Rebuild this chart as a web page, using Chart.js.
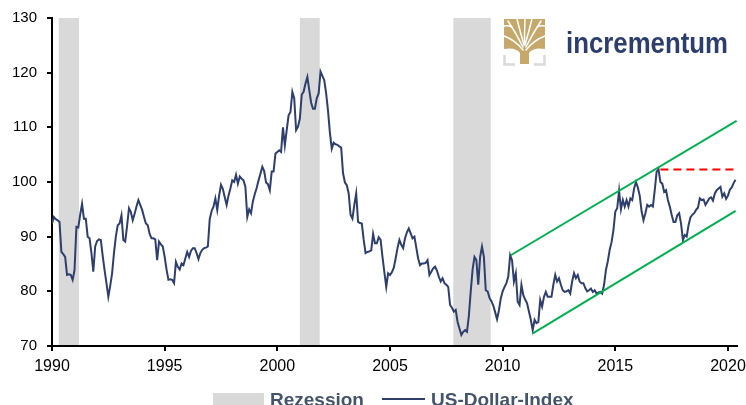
<!DOCTYPE html>
<html>
<head>
<meta charset="utf-8">
<script src="https://cdn.jsdelivr.net/npm/chart.js@4.4.1/dist/chart.umd.min.js"></script>
<style>
  body { margin: 0; background: #fff; }
  #wrap { position: relative; width: 746px; height: 405px; overflow: hidden; font-family: "Liberation Sans", Arial, sans-serif; }
  #chart { position: absolute; left: 0; top: 0; }
  .logo { position: absolute; left: 503px; top: 18px; }
  .leg { position: absolute; font-weight: bold; font-size: 19px; line-height: 19px; color: #44546A; white-space: nowrap; }
  .leg-box { position: absolute; left: 213px; top: 393px; width: 51px; height: 14px; background: #D9D9D9; }
  .leg-line { position: absolute; left: 382px; top: 398px; width: 43px; height: 2px; background: #2E3F6E; }
</style>
</head>
<body>
<div id="wrap">
  <canvas id="chart" width="746" height="405"></canvas>

  <svg class="logo" width="232" height="50" viewBox="0 0 232 50">
    <!-- Baum -->
    <path d="M1 1 H42 V31 Q30 29 26 35 V46 H17 V35 Q13 29 1 31 Z" fill="#C5A86A"/>
    <g stroke="#fff" stroke-width="1.5" fill="none" stroke-linecap="round">
      <path d="M20 32 Q12 22 1 18"/>
      <path d="M20 29 Q13 15 5 3"/>
      <path d="M21 27 Q17 13 14 1"/>
      <path d="M21.5 26 Q21.5 12 22 1"/>
      <path d="M22 27 Q26 13 29 1"/>
      <path d="M23 29 Q30 15 38 3"/>
      <path d="M23 32 Q31 22 42 18"/>
      <path d="M9 9 Q5 7 1 8"/>
      <path d="M34 9 Q38 7 42 8"/>
    </g>
    <g stroke="#D9D9D9" stroke-width="2.5" fill="none">
      <path d="M1.5 37 V46.5 H12"/>
      <path d="M41.5 37 V46.5 H31"/>
    </g>
    <text x="63" y="35" font-family="Liberation Sans, Arial, sans-serif" font-weight="bold" font-size="29"
          fill="#2C3E6B" textLength="162" lengthAdjust="spacingAndGlyphs">incrementum</text>
  </svg>

  <div class="leg-box"></div>
  <div class="leg" style="left:270px; top:390px;">Rezession</div>
  <div class="leg-line"></div>
  <div class="leg" style="left:431px; top:390px;">US-Dollar-Index</div>
</div>

<script>
// US-Dollar-Index, Monatswerte ab Jan 1990
const startYear = 1990;
const usdIndex = [
  92.4, 93.6, 93.2, 93.0, 92.7, 87.2, 86.8, 86.3, 83.0, 83.1, 83.0, 82.1,         // 1990
  83.9, 91.8, 91.7, 94.0, 96.0, 93.3, 93.3, 90.0, 89.7, 87.0, 83.6, 88.2,         // 1991
  89.2, 89.5, 89.4, 86.5, 83.9, 81.5, 79.0, 81.0, 83.3, 87.0, 90.0, 92.1,         // 1992
  92.4, 93.9, 89.4, 89.1, 92.0, 95.2, 94.5, 93.0, 94.2, 95.5, 96.7, 95.8,         // 1993
  94.9, 93.6, 92.4, 92.1, 90.5, 89.7, 89.7, 89.5, 85.7, 89.1, 88.6, 88.2,         // 1994
  86.3, 84.0, 82.1, 82.2, 82.1, 81.5, 85.4, 84.5, 84.0, 85.1, 84.8, 86.0,         // 1995
  87.2, 86.3, 87.4, 87.9, 87.9, 87.0, 85.9, 87.0, 87.6, 87.9, 88.0, 88.2,         // 1996
  93.2, 94.7, 95.5, 97.0, 94.9, 97.5, 99.5, 98.7, 97.2, 95.8, 97.5, 98.8,         // 1997
  100.3, 100.0, 101.3, 99.7, 101.0, 100.6, 100.3, 99.1, 93.6, 95.0, 94.3, 96.5,   // 1998
  97.8, 98.9, 100.3, 101.5, 102.8, 102.0, 99.9, 99.6, 98.5, 101.9, 101.9, 105.2,  // 1999
  105.5, 105.8, 105.5, 110.0, 106.7, 109.5, 112.2, 112.8, 116.5, 115.3, 109.5, 110.1, // 2000
  111.6, 116.0, 116.5, 118.0, 119.2, 116.8, 114.5, 113.4, 113.4, 115.3, 116.2, 120.2, // 2001
  119.4, 118.6, 116.2, 113.0, 109.0, 106.1, 107.2, 106.9, 106.8, 106.5, 106.3, 101.6, // 2002
  99.9, 99.4, 97.9, 94.0, 93.3, 95.8, 97.9, 92.7, 92.5, 92.4, 89.4, 87.0,         // 2003
  87.2, 87.3, 87.5, 90.5, 88.8, 88.8, 89.9, 89.4, 86.3, 83.5, 80.8, 83.3,         // 2004
  83.0, 83.5, 84.3, 86.0, 87.9, 89.4, 88.5, 87.9, 89.7, 90.8, 91.5, 90.6,         // 2005
  89.7, 90.0, 88.0, 86.0, 84.8, 85.1, 85.1, 85.2, 85.7, 83.0, 83.6, 84.2,         // 2006
  84.5, 83.8, 82.7, 81.8, 82.4, 81.5, 81.2, 80.8, 77.5, 77.0, 76.3, 76.6,         // 2007
  74.4, 73.2, 72.0, 72.6, 72.9, 72.6, 75.5, 80.0, 84.0, 86.3, 85.7, 81.2,         // 2008
  86.3, 88.2, 86.3, 80.2, 80.0, 78.8, 78.2, 77.4, 76.2, 74.9, 76.5, 78.7,         // 2009
  80.0, 80.8, 81.5, 82.7, 86.6, 85.7, 81.8, 83.3, 78.1, 77.5, 81.2, 79.3,         // 2010
  78.5, 77.8, 76.3, 74.8, 72.9, 74.8, 74.2, 74.4, 78.4, 77.2, 79.0, 79.9,         // 2011
  79.0, 79.0, 79.0, 81.2, 83.0, 81.8, 82.4, 81.2, 80.2, 79.9, 80.0, 80.2,         // 2012
  79.6, 81.8, 83.3, 82.4, 83.0, 81.8, 81.5, 81.5, 80.6, 80.0, 80.2, 80.5,         // 2013
  79.9, 80.2, 79.6, 79.8, 79.9, 79.6, 81.2, 83.9, 85.5, 87.6, 89.0, 91.2,         // 2014
  94.6, 95.2, 98.4, 95.0, 96.7, 95.5, 96.7, 95.5, 97.0, 96.7, 98.8, 100.0,        // 2015
  99.0, 97.5, 94.6, 93.0, 94.3, 95.8, 95.5, 95.8, 95.5, 98.5, 101.9, 102.3,       // 2016
  100.0, 99.7, 98.2, 98.5, 96.7, 95.5, 94.0, 92.7, 92.7, 93.9, 94.3, 92.4,        // 2017
  89.4, 90.3, 90.0, 92.1, 93.5, 94.0, 94.3, 94.9, 95.3, 97.0, 96.7, 96.8,         // 2018
  95.8, 96.4, 97.0, 97.2, 96.6, 97.9, 98.5, 98.8, 99.1, 97.3, 97.9, 96.9,         // 2019
  97.5, 98.6, 99.0, 99.8, 100.4                                                   // 2020
];

// Rezessionen (Beginn, Ende) in Jahren
const recessions = [[1990.3, 1991.2], [2001.0, 2001.88], [2007.81, 2009.47]];

// Trendkanal und Widerstand (Jahr, Wert)
const upperChannel = [[2010.36, 86.6], [2020.38, 111.2]];
const lowerChannel = [[2011.34, 72.3], [2020.34, 94.7]];
const resistance = [[2017.0, 102.3], [2020.34, 102.3]];

const yTicks = [70, 80, 90, 100, 110, 120, 130];
const xTicks = [1990, 1995, 2000, 2005, 2010, 2015, 2020];

const toPoints = (pairs) => pairs.map(([x, y]) => ({ x, y }));

// graue Balken hinter allem
const recessionShade = {
  id: "recessionShade",
  beforeDraw(chart) {
    const { ctx, chartArea, scales } = chart;
    ctx.save();
    ctx.fillStyle = "#D9D9D9";
    recessions.forEach(([a, b]) => {
      const x0 = scales.x.getPixelForValue(a);
      const x1 = scales.x.getPixelForValue(b);
      ctx.fillRect(x0, chartArea.top, x1 - x0, chartArea.bottom - chartArea.top);
    });
    ctx.restore();
  },
};

Chart.defaults.font.family = "'Liberation Sans', Arial, sans-serif";
Chart.defaults.color = "#000";

new Chart(document.getElementById("chart"), {
  type: "line",
  data: {
    datasets: [
      {
        label: "Widerstand",
        data: toPoints(resistance),
        borderColor: "#FF0000",
        borderWidth: 2,
        borderDash: [8, 5],
        pointRadius: 0,
        order: 0,
      },
      {
        label: "Kanal oben",
        data: toPoints(upperChannel),
        borderColor: "#00B050",
        borderWidth: 2,
        pointRadius: 0,
        order: 0,
      },
      {
        label: "Kanal unten",
        data: toPoints(lowerChannel),
        borderColor: "#00B050",
        borderWidth: 2,
        pointRadius: 0,
        order: 0,
      },
      {
        label: "US-Dollar-Index",
        data: usdIndex.map((v, i) => ({ x: startYear + i / 12, y: v })),
        borderColor: "#2E3F6E",
        borderWidth: 2,
        pointRadius: 0,
        tension: 0,
        order: 1,
      },
    ],
  },
  options: {
    responsive: false,
    animation: false,
    devicePixelRatio: 1,
    layout: { autoPadding: false, padding: { top: 18, right: 9, bottom: 0, left: 0 } },
    plugins: {
      legend: { display: false },
      tooltip: { enabled: false },
    },
    scales: {
      x: {
        type: "linear",
        min: 1990,
        max: 2020.4,
        afterFit: (s) => { s.height = 59; s.paddingLeft = 0; s.paddingRight = 0; },
        afterBuildTicks: (s) => { s.ticks = xTicks.map((v) => ({ value: v })); },
        ticks: {
          callback: (v) => String(v),
          font: { size: 16 },
          padding: 6,
          maxRotation: 0,
          autoSkip: false,
        },
        grid: { drawOnChartArea: false, drawTicks: true, tickLength: 5, color: "#000", lineWidth: 2 },
        border: { display: true, color: "#000", width: 2 },
      },
      y: {
        min: 70,
        max: 130,
        afterFit: (s) => { s.width = 52; s.paddingTop = 0; s.paddingBottom = 0; },
        afterBuildTicks: (s) => { s.ticks = yTicks.map((v) => ({ value: v })); },
        ticks: { font: { size: 15 }, padding: 10 },
        grid: { drawOnChartArea: false, drawTicks: true, tickLength: 5, color: "#000", lineWidth: 2 },
        border: { display: true, color: "#000", width: 2 },
      },
    },
  },
  plugins: [recessionShade],
});
</script>
</body>
</html>
